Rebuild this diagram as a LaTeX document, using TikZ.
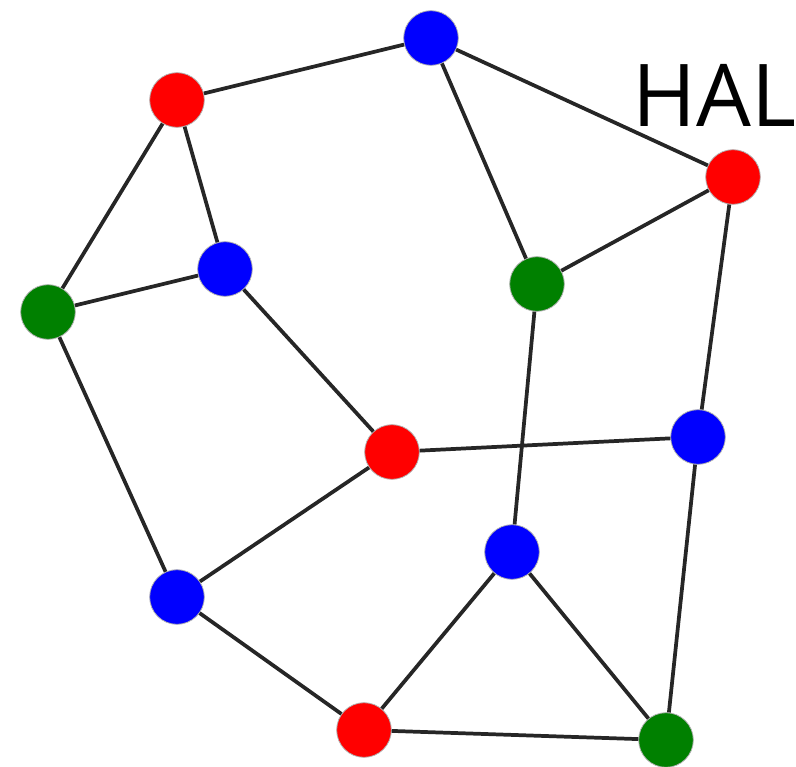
\documentclass[tikz,border=0pt]{standalone}
\usepackage{fontspec}
\setmainfont{Open Sans}
\usepackage{tikz}
\usetikzlibrary{positioning}
\definecolor{vred}{RGB}{255,0,0}
\definecolor{vblue}{RGB}{0,0,255}
\definecolor{vgreen}{RGB}{0,128,0}
\tikzset{
  vtx/.style={circle, draw=gray!60, line width=0.6pt, minimum size=41pt, inner sep=0pt},
  rv/.style={vtx, fill=vred},
  bv/.style={vtx, fill=vblue},
  gv/.style={vtx, fill=vgreen},
  ed/.style={draw, line width=2.8pt, black!85}
}

\begin{document}
\begin{tikzpicture}[x=0.75pt, y=-0.75pt]
\useasboundingbox (0,0) rectangle (796,767);
% vertices
\node[bv] (btop)   at (431,38)  {};
\node[rv] (rtl)    at (177,100) {};
\node[rv] (rtr)    at (733,177) {};
\node[bv] (bleft)  at (225,269) {};
\node[gv] (gmid)   at (537,284) {};
\node[gv] (gleft)  at (48,312)  {};
\node[rv] (rmid)   at (392,452) {};
\node[bv] (bright) at (698,437) {};
\node[bv] (blow)   at (512,552) {};
\node[bv] (bbl)    at (177,597) {};
\node[rv] (rbot)   at (364,730) {};
\node[gv] (gbot)   at (666,740) {};
% label
\node[anchor=base west, inner sep=0pt, font=\fontsize{65}{65}\selectfont] (hal) at (632,127) {HAL};
% edges
\draw[ed] (rtl) -- (btop) (btop) -- (rtr) (btop) -- (gmid) (gmid) -- (rtr)
  (rtl) -- (gleft) (rtl) -- (bleft) (bleft) -- (gleft) (bleft) -- (rmid)
  (gleft) -- (bbl) (bbl) -- (rmid) (rmid) -- (bright) (rtr) -- (bright)
  (gmid) -- (blow) (blow) -- (rbot) (blow) -- (gbot) (bbl) -- (rbot)
  (rbot) -- (gbot) (bright) -- (gbot);
\end{tikzpicture}
\end{document}
